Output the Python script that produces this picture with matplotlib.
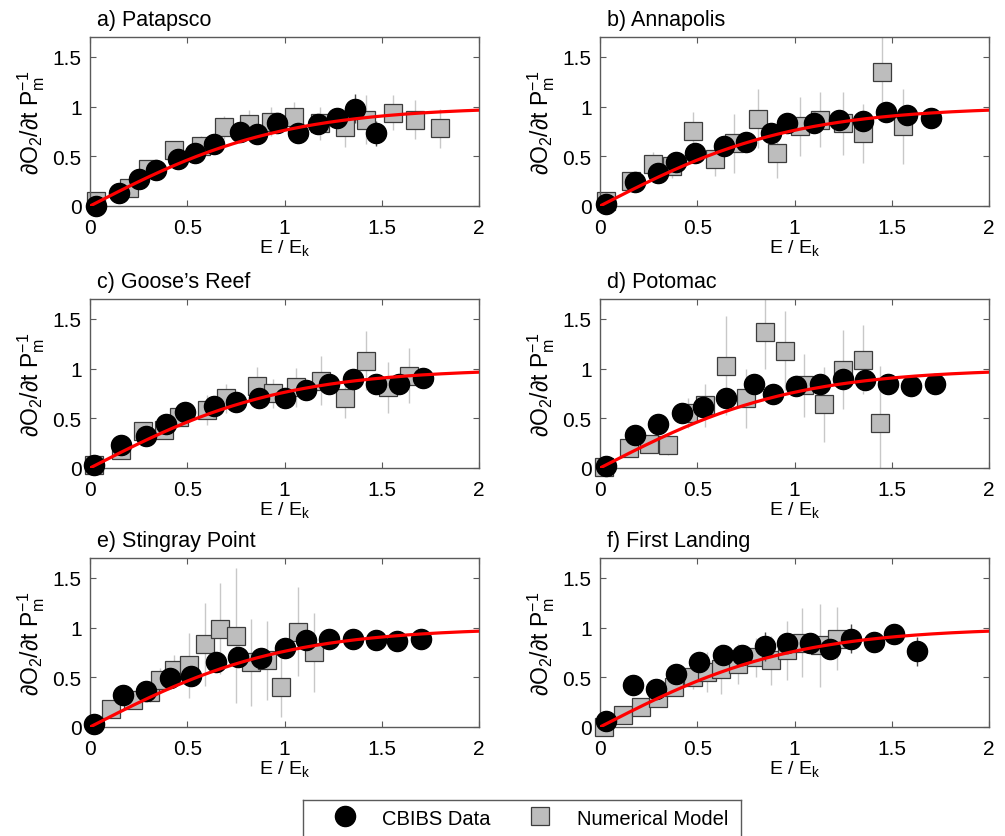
import numpy as np
import matplotlib
matplotlib.use("Agg")
import matplotlib.pyplot as plt
from matplotlib.lines import Line2D

# -------------------------
# DATA
# -------------------------
TITLES = ["a) Patapsco", "b) Annapolis", "c) Goose\u2019s Reef",
          "d) Potomac", "e) Stingray Point", "f) First Landing"]

# CBIBS data (circles)
pat_cb_x = [0.03, 0.15, 0.25, 0.34, 0.45, 0.54, 0.64, 0.77, 0.86, 0.96, 1.07, 1.17, 1.27, 1.36, 1.47]
pat_cb_y = [0.0, 0.13, 0.27, 0.36, 0.47, 0.53, 0.62, 0.74, 0.72, 0.83, 0.73, 0.82, 0.89, 0.98, 0.73]
pat_cb_e = [0.03, 0.04, 0.05, 0.05, 0.05, 0.05, 0.06, 0.06, 0.06, 0.07, 0.07, 0.08, 0.1, 0.15, 0.13]

ann_cb_x = [0.03, 0.18, 0.3, 0.39, 0.49, 0.64, 0.75, 0.88, 0.96, 1.1, 1.23, 1.35, 1.47, 1.58, 1.7]
ann_cb_y = [0.02, 0.24, 0.33, 0.44, 0.53, 0.6, 0.64, 0.73, 0.83, 0.83, 0.87, 0.86, 0.95, 0.92, 0.89]
ann_cb_e = [0.03, 0.04, 0.04, 0.05, 0.05, 0.05, 0.05, 0.06, 0.06, 0.06, 0.07, 0.07, 0.1, 0.08, 0.08]

goo_cb_x = [0.02, 0.16, 0.29, 0.39, 0.49, 0.64, 0.75, 0.87, 1.0, 1.11, 1.23, 1.35, 1.47, 1.59, 1.71]
goo_cb_y = [0.03, 0.23, 0.32, 0.44, 0.56, 0.62, 0.66, 0.7, 0.7, 0.78, 0.85, 0.9, 0.85, 0.85, 0.91]
goo_cb_e = [0.03, 0.04, 0.04, 0.05, 0.05, 0.05, 0.05, 0.06, 0.06, 0.06, 0.07, 0.07, 0.07, 0.08, 0.08]

pot_cb_x = [0.03, 0.18, 0.3, 0.42, 0.53, 0.65, 0.79, 0.89, 1.01, 1.13, 1.25, 1.36, 1.48, 1.6, 1.72]
pot_cb_y = [0.02, 0.33, 0.44, 0.55, 0.61, 0.7, 0.85, 0.74, 0.82, 0.84, 0.9, 0.89, 0.85, 0.82, 0.85]
pot_cb_e = [0.03, 0.05, 0.05, 0.06, 0.06, 0.07, 0.08, 0.07, 0.1, 0.08, 0.1, 0.1, 0.08, 0.08, 0.1]

sti_cb_x = [0.02, 0.17, 0.29, 0.41, 0.52, 0.65, 0.76, 0.88, 1.0, 1.11, 1.23, 1.35, 1.47, 1.58, 1.7]
sti_cb_y = [0.03, 0.32, 0.36, 0.49, 0.51, 0.65, 0.7, 0.69, 0.79, 0.88, 0.89, 0.89, 0.88, 0.87, 0.89]
sti_cb_e = [0.03, 0.04, 0.05, 0.05, 0.05, 0.06, 0.06, 0.06, 0.07, 0.07, 0.1, 0.07, 0.07, 0.07, 0.08]

fir_cb_x = [0.03, 0.17, 0.29, 0.39, 0.51, 0.63, 0.73, 0.85, 0.96, 1.08, 1.18, 1.29, 1.41, 1.51, 1.63]
fir_cb_y = [0.06, 0.42, 0.38, 0.53, 0.65, 0.72, 0.72, 0.81, 0.85, 0.84, 0.78, 0.89, 0.86, 0.94, 0.76]
fir_cb_e = [0.03, 0.05, 0.05, 0.06, 0.06, 0.07, 0.07, 0.15, 0.08, 0.08, 0.1, 0.15, 0.1, 0.08, 0.15]

# Numerical model (squares)
pat_nm_x = [0.03, 0.2, 0.3, 0.43, 0.57, 0.69, 0.82, 0.93, 1.05, 1.18, 1.31, 1.42, 1.56, 1.67, 1.8]
pat_nm_y = [0.05, 0.18, 0.37, 0.56, 0.6, 0.79, 0.82, 0.85, 0.9, 0.83, 0.79, 0.87, 0.94, 0.87, 0.78]
pat_nm_e = [0.05, 0.06, 0.06, 0.08, 0.1, 0.12, 0.15, 0.15, 0.15, 0.17, 0.2, 0.25, 0.18, 0.2, 0.2]

ann_nm_x = [0.03, 0.16, 0.27, 0.37, 0.48, 0.59, 0.69, 0.81, 0.91, 1.03, 1.13, 1.25, 1.35, 1.45, 1.56]
ann_nm_y = [0.05, 0.25, 0.42, 0.4, 0.75, 0.47, 0.63, 0.88, 0.53, 0.8, 0.87, 0.83, 0.73, 1.35, 0.8]
ann_nm_e = [0.04, 0.08, 0.12, 0.12, 0.2, 0.17, 0.3, 0.3, 0.25, 0.3, 0.28, 0.32, 0.3, 0.35, 0.38]

goo_nm_x = [0.02, 0.16, 0.27, 0.38, 0.46, 0.6, 0.7, 0.86, 0.94, 1.06, 1.19, 1.31, 1.42, 1.53, 1.64]
goo_nm_y = [0.03, 0.18, 0.37, 0.38, 0.51, 0.58, 0.7, 0.82, 0.75, 0.81, 0.88, 0.7, 1.08, 0.81, 0.93]
goo_nm_e = [0.03, 0.05, 0.06, 0.08, 0.1, 0.15, 0.15, 0.2, 0.15, 0.2, 0.25, 0.2, 0.3, 0.26, 0.28]

pot_nm_x = [0.02, 0.15, 0.25, 0.35, 0.45, 0.54, 0.65, 0.75, 0.85, 0.95, 1.05, 1.15, 1.25, 1.35, 1.44]
pot_nm_y = [0.01, 0.2, 0.24, 0.23, 0.55, 0.63, 1.03, 0.7, 1.37, 1.18, 0.83, 0.64, 0.99, 1.09, 0.45]
pot_nm_e = [0.03, 0.06, 0.08, 0.1, 0.15, 0.22, 0.5, 0.3, 0.37, 0.4, 0.32, 0.38, 0.4, 0.35, 0.58]

sti_nm_x = [0.11, 0.22, 0.31, 0.36, 0.43, 0.51, 0.59, 0.67, 0.75, 0.83, 0.91, 0.98, 1.07, 1.15]
sti_nm_y = [0.18, 0.27, 0.35, 0.47, 0.57, 0.62, 0.83, 0.99, 0.92, 0.65, 0.67, 0.4, 0.96, 0.75]
sti_nm_e = [0.06, 0.08, 0.1, 0.12, 0.15, 0.33, 0.42, 0.46, 0.68, 0.44, 0.4, 0.3, 0.45, 0.4]

fir_nm_x = [0.02, 0.12, 0.21, 0.3, 0.38, 0.48, 0.55, 0.62, 0.71, 0.8, 0.88, 0.96, 1.04, 1.13, 1.22]
fir_nm_y = [0.0, 0.12, 0.2, 0.29, 0.4, 0.5, 0.55, 0.58, 0.63, 0.7, 0.67, 0.77, 0.85, 0.82, 0.89]
fir_nm_e = [0.03, 0.04, 0.05, 0.06, 0.08, 0.12, 0.2, 0.25, 0.2, 0.2, 0.25, 0.3, 0.35, 0.42, 0.32]

CB = [(pat_cb_x, pat_cb_y, pat_cb_e), (ann_cb_x, ann_cb_y, ann_cb_e),
      (goo_cb_x, goo_cb_y, goo_cb_e), (pot_cb_x, pot_cb_y, pot_cb_e),
      (sti_cb_x, sti_cb_y, sti_cb_e), (fir_cb_x, fir_cb_y, fir_cb_e)]
NM = [(pat_nm_x, pat_nm_y, pat_nm_e), (ann_nm_x, ann_nm_y, ann_nm_e),
      (goo_nm_x, goo_nm_y, goo_nm_e), (pot_nm_x, pot_nm_y, pot_nm_e),
      (sti_nm_x, sti_nm_y, sti_nm_e), (fir_nm_x, fir_nm_y, fir_nm_e)]

# model P-E curve (tanh)
curve_x = np.linspace(0, 2, 200)
curve_y = np.tanh(curve_x)

# -------------------------
# STYLE
# -------------------------
plt.rcParams['font.family'] = ['Liberation Sans', 'DejaVu Sans']
plt.rcParams['mathtext.default'] = 'regular'
plt.rcParams['font.size'] = 15

SPINE = "#5a5a5a"
SQ_FACE = "#bdbdbd"
SQ_EDGE = "#3c3c3c"
SQ_ERR = "#c8c8c8"
CB_ERR = "#4a4a4a"

W, H = 1005, 837
fig = plt.figure(figsize=(W / 100, H / 100), dpi=100)

lefts = [90, 600]
tops = [38, 300, 559]
aw, ah = 389, 169

for i in range(6):
    r, c = divmod(i, 2)
    ax = fig.add_axes([lefts[c] / W, 1 - (tops[r] + ah) / H, aw / W, ah / H])

    nx, ny, ne = NM[i]
    bx, by, be = CB[i]
    ax.errorbar(nx, ny, yerr=ne, fmt="none", ecolor=SQ_ERR, elinewidth=1.0, capsize=0, zorder=1)
    ax.plot(nx, ny, "s", ms=12.5, mfc=SQ_FACE, mec=SQ_EDGE, mew=0.9, zorder=2, clip_on=False)
    ax.errorbar(bx, by, yerr=be, fmt="none", ecolor=CB_ERR, elinewidth=1.0, capsize=0, zorder=3)
    ax.plot(bx, by, "o", ms=14.5, mfc="black", mec="black", zorder=4, clip_on=False)
    ax.plot(curve_x, curve_y, color="red", lw=2.3, zorder=5)

    ax.set_xlim(0, 2)
    ax.set_ylim(0, 1.7)
    ax.set_xticks([0, 0.5, 1, 1.5, 2])
    ax.set_xticklabels(["0", "0.5", "1", "1.5", "2"])
    ax.set_yticks([0, 0.5, 1, 1.5])
    ax.set_yticklabels(["0", "0.5", "1", "1.5"])
    ax.tick_params(direction="in", length=4, width=0.8, color=SPINE,
                   top=True, right=True, labelsize=15)
    ax.tick_params(axis="x", pad=9)
    ax.tick_params(axis="y", pad=6)
    for s in ax.spines.values():
        s.set_color(SPINE)
        s.set_linewidth(1.0)

    ax.set_xlabel("E / E$_k$", fontsize=14, labelpad=0)
    ax.set_ylabel("\u2202O$_2$/\u2202t P$_m^{-1}$", fontsize=16.5, labelpad=4)
    ax.text(0.018, 1.07, TITLES[i], transform=ax.transAxes, fontsize=15.5,
            ha="left", va="baseline")

# -------------------------
# LEGEND (box runs off the bottom edge)
# -------------------------
lax = fig.add_axes([303 / W, 1 - 842 / H, 438 / W, 41 / H])
lax.set_xticks([])
lax.set_yticks([])
for s in lax.spines.values():
    s.set_color(SPINE)
    s.set_linewidth(1.0)
handles = [
    Line2D([], [], ls="none", marker="o", ms=14.5, mfc="black", mec="black"),
    Line2D([], [], ls="none", marker="s", ms=12.5, mfc=SQ_FACE, mec=SQ_EDGE, mew=0.9),
]
lax.legend(handles, ["CBIBS Data", "Numerical Model"], ncol=2, frameon=False,
           loc="center", bbox_to_anchor=(0.516, 0.56), fontsize=14.5,
           handletextpad=1.1, columnspacing=1.7, handlelength=1.5)

fig.savefig("out.png", dpi=100)
